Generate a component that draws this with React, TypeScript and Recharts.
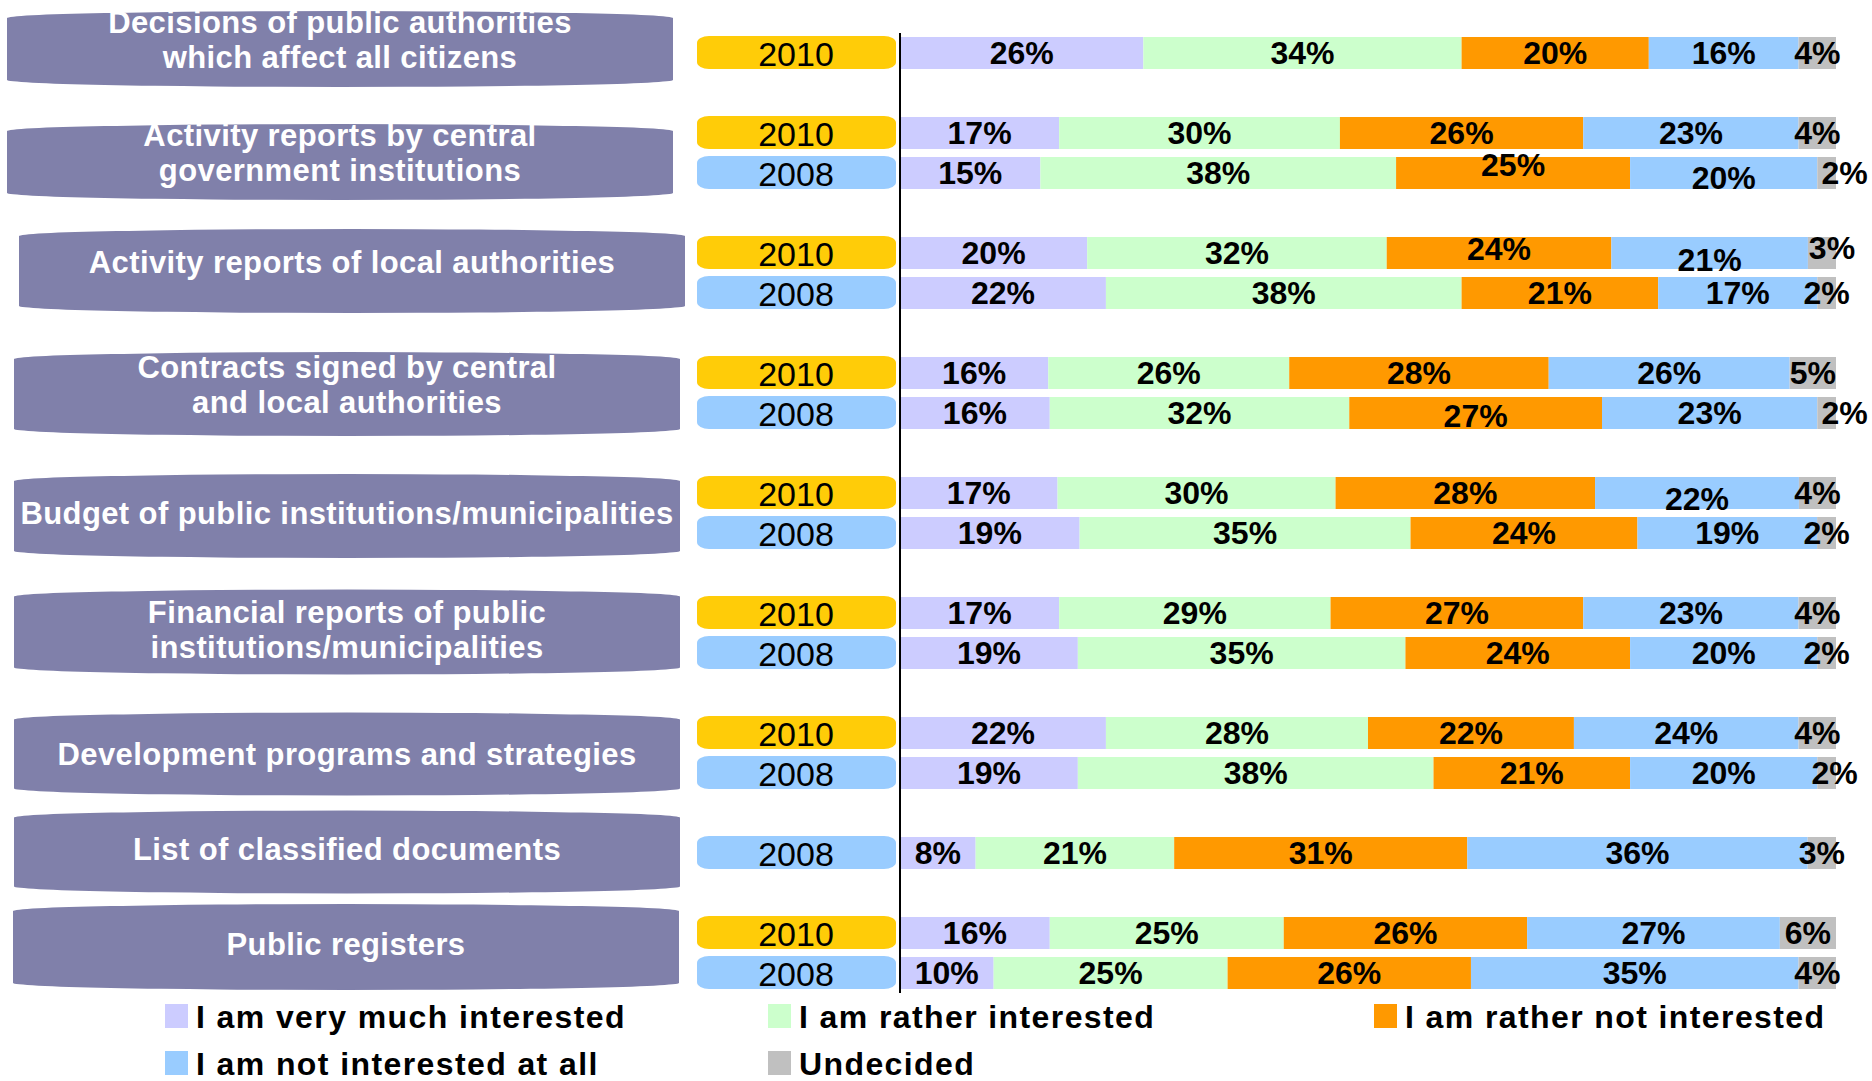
import { BarChart, Bar, XAxis, YAxis, LabelList } from 'recharts';

const groupNames = [
  ['Decisions of public authorities', 'which affect all citizens'],
  ['Activity reports by central', 'government institutions'],
  ['Activity reports of local authorities'],
  ['Contracts signed by central', 'and local authorities'],
  ['Budget of public institutions/municipalities'],
  ['Financial reports of public', 'institutions/municipalities'],
  ['Development programs and strategies'],
  ['List of classified documents'],
  ['Public registers'],
];

const groupYears = [
  ['2010'],
  ['2010', '2008'],
  ['2010', '2008'],
  ['2010', '2008'],
  ['2010', '2008'],
  ['2010', '2008'],
  ['2010', '2008'],
  ['2008'],
  ['2010', '2008'],
];

// one value per bar, top to bottom
const veryMuch = [26, 17, 15, 20, 22, 16, 16, 17, 19, 17, 19, 22, 19, 8, 16, 10];
const rather = [34, 30, 38, 32, 38, 26, 32, 30, 35, 29, 35, 28, 38, 21, 25, 25];
const ratherNot = [20, 26, 25, 24, 21, 28, 27, 28, 24, 27, 24, 22, 21, 31, 26, 26];
const notAtAll = [16, 23, 20, 21, 17, 26, 23, 22, 19, 23, 20, 24, 20, 36, 27, 35];
const undecided = [4, 4, 2, 3, 2, 5, 2, 4, 2, 4, 2, 4, 2, 3, 6, 4];

const SERIES = [
  { key: 'veryMuch', name: 'I am very much interested', color: '#CCCCFF' },
  { key: 'rather', name: 'I am rather interested', color: '#CCFFCC' },
  { key: 'ratherNot', name: 'I am rather not interested', color: '#FF9900' },
  { key: 'notAtAll', name: 'I am not interested at all', color: '#99CCFF' },
  { key: 'undecided', name: 'Undecided', color: '#C0C0C0' },
];

const FONT = '"Liberation Sans", Arial, sans-serif';
const TOP = 33;
const BAND = 40;
const PURPLE = '#8080AA';
const YEAR_COLORS: Record<string, string> = { '2010': '#FFCC08', '2008': '#99CCFF' };

// purple label boxes: left edge, height, vertical nudge, text nudge
const boxLeft = [7, 7, 19, 14, 14, 14, 14, 14, 13];
const boxHeight = [76, 76, 84, 84, 84, 85, 83, 83, 86];
const boxShift = [-4, 9, -2, 1, 3, -1, 1, -1, -6];
const textShift = [0, 0, -8, 0, -2, 7, 1, -2, -2];

// a few labels sit off-centre in the original
const labelNudge: Record<string, [number, number]> = {
  '1-2008:ratherNot': [0, -8],
  '1-2008:notAtAll': [0, 5],
  '1-2008:undecided': [18, 0],
  '2-2010:ratherNot': [0, -4],
  '2-2010:notAtAll': [0, 7],
  '2-2010:undecided': [10, -5],
  '3-2008:ratherNot': [0, 3],
  '3-2008:undecided': [18, 0],
  '4-2010:notAtAll': [0, 6],
  '6-2008:undecided': [8, 0],
};

type Row = {
  key: string;
  group: number;
  year: string | null;
  first: boolean;
  count: number;
  [k: string]: any;
};

const rows: Row[] = [];
let idx = 0;
groupYears.forEach((years, g) => {
  years.forEach((year, i) => {
    rows.push({
      key: `${g}-${year}`,
      group: g,
      year,
      first: i === 0,
      count: years.length,
      veryMuch: veryMuch[idx],
      rather: rather[idx],
      ratherNot: ratherNot[idx],
      notAtAll: notAtAll[idx],
      undecided: undecided[idx],
    });
    idx++;
  });
  if (g < groupYears.length - 1) {
    rows.push({
      key: `gap-${g}`,
      group: g,
      year: null,
      first: false,
      count: 0,
      veryMuch: null,
      rather: null,
      ratherNot: null,
      notAtAll: null,
      undecided: null,
    });
  }
});

const rowByKey: Record<string, Row> = {};
rows.forEach((r) => (rowByKey[r.key] = r));

function GroupBox({ group, cy }: { group: number; cy: number }) {
  const x0 = boxLeft[group];
  const x1 = x0 + 666;
  const h = boxHeight[group];
  const top = cy - h / 2;
  const bot = cy + h / 2;
  const c = 7;
  const w = x1 - x0;
  const d = `M${x0},${top + c} A${w / 2},${c} 0 0 1 ${x1},${top + c} L${x1},${bot - c} A${w / 2},${c} 0 0 1 ${x0},${bot - c} Z`;
  const lines = groupNames[group];
  const cx = (x0 + x1) / 2;
  return (
    <g>
      <path d={d} fill={PURPLE} />
      {lines.map((line, i) => {
        const base =
          (lines.length === 1 ? cy + 10 : cy + 1.5 + (i - 0.5) * 35) + textShift[group];
        return (
          <text
            key={i}
            x={cx}
            y={base}
            textAnchor="middle"
            fill="#fff"
            fontFamily={FONT}
            fontWeight="bold"
            fontSize={31}
            letterSpacing={0.4}
          >
            {line}
          </text>
        );
      })}
    </g>
  );
}

function RowTick(props: any) {
  const { y, payload } = props;
  const row = rowByKey[payload.value];
  if (!row || !row.year) return <g />;
  const boxCy = y + ((row.count - 1) * BAND) / 2 + boxShift[row.group];
  return (
    <g>
      {row.first && <GroupBox group={row.group} cy={boxCy} />}
      <rect x={697} y={y - 17} width={199} height={33} rx={12} ry={7} fill={YEAR_COLORS[row.year]} />
      <text x={796} y={y + 13} textAnchor="middle" fontFamily={FONT} fontSize={34} fill="#000">
        {row.year}
      </text>
    </g>
  );
}

function PctLabel(props: any) {
  const { x, y, width, height, value, series } = props;
  if (value == null || !width) return null;
  const cy = y + height / 2;
  const row = rows[Math.round((cy - TOP - BAND / 2) / BAND)];
  const [dx, dy] = (row && labelNudge[`${row.key}:${series}`]) || [0, 0];
  return (
    <text
      x={x + width / 2 + dx}
      y={cy + 11 + dy}
      textAnchor="middle"
      fontFamily={FONT}
      fontWeight="bold"
      fontSize={32}
      fill="#000"
    >
      {value}%
    </text>
  );
}

const legendPos = [
  { left: 165, top: 1003 },
  { left: 768, top: 1003 },
  { left: 1374, top: 1003 },
  { left: 165, top: 1050 },
  { left: 768, top: 1050 },
];

export default function App() {
  return (
    <div
      style={{
        position: 'absolute',
        left: 0,
        top: 0,
        width: 1872,
        height: 1081,
        background: '#fff',
        overflow: 'hidden',
        fontFamily: FONT,
      }}
    >
      <BarChart
        width={1872}
        height={1000}
        data={rows}
        layout="vertical"
        stackOffset="expand"
        barSize={32}
        margin={{ top: TOP, right: 36, bottom: 7, left: 0 }}
      >
        <XAxis type="number" hide domain={[0, 1]} />
        <YAxis
          type="category"
          dataKey="key"
          width={900}
          interval={0}
          tickLine={false}
          axisLine={{ stroke: '#000', strokeWidth: 2 }}
          tick={(p: any) => <RowTick {...p} />}
        />
        {SERIES.map((s) => (
          <Bar key={s.key} dataKey={s.key} name={s.name} stackId="a" fill={s.color} isAnimationActive={false}>
            <LabelList dataKey={s.key} content={(p: any) => <PctLabel {...p} series={s.key} />} />
          </Bar>
        ))}
      </BarChart>
      {SERIES.map((s, i) => (
        <div
          key={s.key}
          style={{
            position: 'absolute',
            left: legendPos[i].left,
            top: legendPos[i].top,
            height: 28,
            display: 'flex',
            alignItems: 'flex-start',
            whiteSpace: 'nowrap',
          }}
        >
          <div style={{ width: 23, height: 24, marginTop: 1, background: s.color }} />
          <div
            style={{
              marginLeft: 8,
              fontSize: 32,
              lineHeight: '28px',
              fontWeight: 'bold',
              letterSpacing: 1.4,
              color: '#000',
            }}
          >
            {s.name}
          </div>
        </div>
      ))}
    </div>
  );
}
